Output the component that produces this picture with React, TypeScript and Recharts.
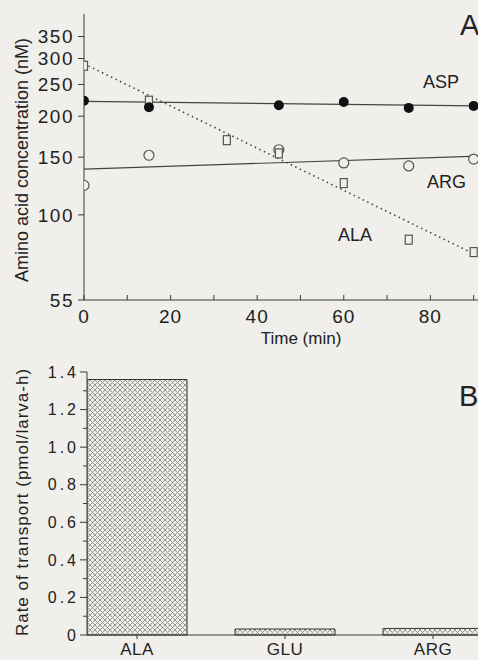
import React from 'react';
import { ComposedChart, Scatter, XAxis, YAxis, BarChart, Bar } from 'recharts';

// ---------- Panel A data ----------
const aspPoints = [
  { t: 0, v: 223 }, { t: 15, v: 213 }, { t: 45, v: 216 },
  { t: 60, v: 221 }, { t: 75, v: 212 }, { t: 90, v: 215 },
];
const argPoints = [
  { t: 0, v: 123 }, { t: 15, v: 152 }, { t: 45, v: 158 },
  { t: 60, v: 144 }, { t: 75, v: 141 }, { t: 90, v: 148 },
];
const alaPoints = [
  { t: 0, v: 285 }, { t: 15, v: 223 }, { t: 33, v: 169 }, { t: 45, v: 154 },
  { t: 60, v: 125 }, { t: 75, v: 84 }, { t: 90, v: 77 },
];
const aspFit = [{ t: 0, v: 222 }, { t: 91, v: 215 }];
const argFit = [{ t: 0, v: 138 }, { t: 91, v: 151 }];
const alaFit = [{ t: 0, v: 289 }, { t: 91, v: 75 }];
const timeTicks = [0, 10, 20, 30, 40, 50, 60, 70, 80, 90];
const concTicks = [55, 100, 150, 200, 250, 300, 350];

// ---------- Panel B data ----------
const aminoAcids = ['ALA', 'GLU', 'ARG'];
const transportRates = [1.36, 0.032, 0.035];
const rateTicks = [0, 0.1, 0.2, 0.3, 0.4, 0.5, 0.6, 0.7, 0.8, 0.9, 1.0, 1.1, 1.2, 1.3, 1.4];

const barData = aminoAcids.map((name, i) => ({ i, name, rate: transportRates[i] }));

const BG = '#f1efeb';
const INK = '#222';
const AXIS = '#3a3a3a';
const FONT = '"Liberation Sans", Arial, Helvetica, sans-serif';

const TimeTick = (props: any) => {
  const { x, y, payload } = props;
  const v = payload.value;
  return (
    <g>
      <line x1={x} x2={x} y1={y} y2={y - 5} stroke={AXIS} strokeWidth={1} />
      {v % 20 === 0 && (
        <text x={x} y={y + 23} textAnchor="middle" fontSize={19} fill={INK} fontFamily={FONT} letterSpacing={1}>
          {v}
        </text>
      )}
    </g>
  );
};

const RateTick = (props: any) => {
  const { x, y, payload } = props;
  const v = payload.value as number;
  const idx = Math.round(v * 10);
  const major = idx % 2 === 0;
  const label = idx === 0 ? '0' : v.toFixed(1);
  return (
    <g>
      <line x1={x} x2={x - (major ? 7 : 4)} y1={y} y2={y} stroke={AXIS} strokeWidth={1} />
      {major && (
        <text x={x - 8} y={y} dy="0.36em" textAnchor="end" fontSize={16} fill={INK} fontFamily={FONT} letterSpacing={3}>
          {label}
        </text>
      )}
    </g>
  );
};

const CatTick = (props: any) => {
  const { x, y, payload } = props;
  const name = aminoAcids[Math.round(payload.value)] ?? '';
  return (
    <g>
      <line x1={x} x2={x} y1={y} y2={y + 4} stroke={AXIS} strokeWidth={1} />
      <text x={x} y={y + 20} textAnchor="middle" fontSize={17} fill={INK} fontFamily={FONT} letterSpacing={0.5}>
        {name}
      </text>
    </g>
  );
};

const FilledDot = (p: any) => <circle cx={p.cx} cy={p.cy} r={5} fill="#111" />;
const OpenDot = (p: any) => <circle cx={p.cx} cy={p.cy} r={5} fill={BG} stroke="#555" strokeWidth={1.2} />;
const OpenSquare = (p: any) => (
  <rect x={p.cx - 3.5} y={p.cy - 4.5} width={7} height={9} fill={BG} stroke="#555" strokeWidth={1.2} />
);
const NoShape = () => <g />;

export default function App() {
  return (
    <div style={{ position: 'absolute', left: 0, top: 0, width: 478, height: 660, background: BG, overflow: 'hidden', fontFamily: FONT }}>
      <div style={{ position: 'absolute', left: 0, top: 0 }}>
        <ComposedChart width={478} height={345} margin={{ top: 14, right: 0, bottom: 0, left: 0 }}>
          <XAxis
            dataKey="t"
            type="number"
            domain={[0, 91]}
            allowDataOverflow
            ticks={timeTicks}
            interval={0}
            tickSize={0}
            tickMargin={0}
            tickLine={false}
            tick={<TimeTick />}
            height={45}
            axisLine={{ stroke: AXIS, strokeWidth: 1 }}
          />
          <YAxis
            dataKey="v"
            type="number"
            scale="log"
            domain={[55, 410]}
            allowDataOverflow
            ticks={concTicks}
            interval={0}
            width={84}
            tickSize={6}
            tickMargin={4}
            tickLine={{ stroke: AXIS }}
            axisLine={{ stroke: AXIS, strokeWidth: 1 }}
            tick={{ fontSize: 19, fill: INK, fontFamily: FONT, letterSpacing: 1.5 }}
          />
          <Scatter data={aspFit} line={{ stroke: '#444', strokeWidth: 1.2 }} shape={<NoShape />} isAnimationActive={false} />
          <Scatter data={argFit} line={{ stroke: '#444', strokeWidth: 1.2 }} shape={<NoShape />} isAnimationActive={false} />
          <Scatter data={alaFit} line={{ stroke: '#444', strokeWidth: 1.6, strokeDasharray: '1.5 3.5' }} shape={<NoShape />} isAnimationActive={false} />
          <Scatter data={argPoints} shape={<OpenDot />} isAnimationActive={false} />
          <Scatter data={alaPoints} shape={<OpenSquare />} isAnimationActive={false} />
          <Scatter data={aspPoints} shape={<FilledDot />} isAnimationActive={false} />
        </ComposedChart>
      </div>

      <div style={{ position: 'absolute', left: 0, top: 345 }}>
        <svg width={0} height={0} style={{ position: 'absolute' }}>
          <defs>
            <pattern id="xhatch" width="5" height="5" patternUnits="userSpaceOnUse">
              <rect width="5" height="5" fill="#eeede9" />
              <path d="M0,0 L5,5 M5,0 L0,5" stroke="#999994" strokeWidth="1" />
            </pattern>
          </defs>
        </svg>
        <BarChart width={478} height={315} data={barData} margin={{ top: 27, right: 0, bottom: 0, left: 0 }}>
          <XAxis
            dataKey="i"
            type="number"
            domain={[-0.338, 2.304]}
            allowDataOverflow
            ticks={[0, 1, 2]}
            interval={0}
            tickSize={0}
            tickMargin={0}
            tickLine={false}
            tick={<CatTick />}
            height={25}
            axisLine={{ stroke: AXIS, strokeWidth: 1 }}
          />
          <YAxis
            type="number"
            domain={[0, 1.4]}
            ticks={rateTicks}
            interval={0}
            width={87}
            tickSize={0}
            tickMargin={0}
            tickLine={false}
            tick={<RateTick />}
            axisLine={{ stroke: AXIS, strokeWidth: 1 }}
          />
          <Bar dataKey="rate" barSize={100} fill="url(#xhatch)" stroke="#333" strokeWidth={1} isAnimationActive={false} />
        </BarChart>
      </div>

      <svg width={478} height={660} style={{ position: 'absolute', left: 0, top: 0, pointerEvents: 'none' }}>
        <g fontFamily={FONT} fill={INK}>
          <text transform="translate(28,160) rotate(-90)" textAnchor="middle" fontSize={18}>
            Amino acid concentration (nM)
          </text>
          <text x={301} y={344} textAnchor="middle" fontSize={17}>Time (min)</text>
          <text x={460} y={35} fontSize={29}>A</text>
          <text x={423} y={88} fontSize={18}>ASP</text>
          <text x={427} y={188} fontSize={18}>ARG</text>
          <text x={338} y={241} fontSize={18}>ALA</text>
          <text transform="translate(28,502) rotate(-90)" textAnchor="middle" fontSize={17} letterSpacing={1}>
            Rate of transport (pmol/larva-h)
          </text>
          <text x={459} y={406} fontSize={29}>B</text>
        </g>
      </svg>
    </div>
  );
}
